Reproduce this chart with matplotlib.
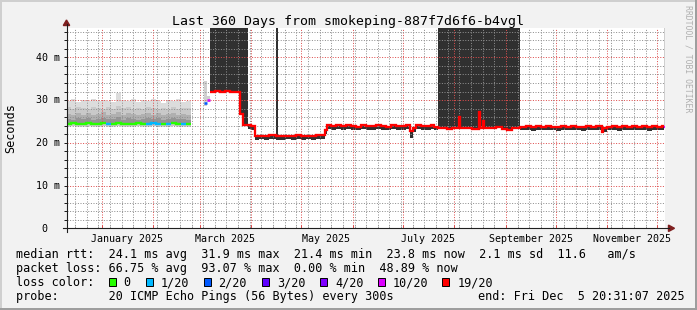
import numpy as np
import matplotlib
matplotlib.use("Agg")
import matplotlib.pyplot as plt
import matplotlib.dates as mdates
import matplotlib.transforms as mtransforms
from matplotlib.ticker import MultipleLocator
from matplotlib.patches import Rectangle, Polygon
from matplotlib.lines import Line2D
from datetime import datetime

# ---------------- data ----------------
start = datetime(2024, 12, 10, 20, 31, 7)
span_days = 360.0

title = "Last 360 Days from smokeping-887f7d6f6-b4vgl"
ylabel = "Seconds"
ytick_vals = [0, 10, 20, 30, 40]
ytick_labels = [" 0", "10 m", "20 m", "30 m", "40 m"]
xlabel_dates = [datetime(2025, 1, 16), datetime(2025, 3, 16), datetime(2025, 5, 16),
                datetime(2025, 7, 16), datetime(2025, 9, 16), datetime(2025, 11, 16)]
xlabel_texts = ["January 2025", "March 2025", "May 2025", "July 2025",
                "September 2025", "November 2025"]

loss_levels = [0, 1, 2, 3, 4, 10, 19]
loss_labels = ["0", "1/20", "2/20", "3/20", "4/20", "10/20", "19/20"]
loss_colors = ["#26ff00", "#00b8ff", "#0059ff", "#5e00ff", "#7e00ff", "#dd00ff", "#ff0000"]

legend_rtt = "median rtt:  24.1 ms avg  31.9 ms max  21.4 ms min  23.8 ms now  2.1 ms sd  11.6   am/s"
legend_loss = "packet loss: 66.75 % avg  93.07 % max  0.00 % min  48.89 % now"
legend_color = "loss color:"
legend_probe = "probe:       20 ICMP Echo Pings (56 Bytes) every 300s"
legend_end = "end: Fri Dec  5 20:31:07 2025"

# segment A (days from start): low-loss period with smoke
A_days = [0, 3, 6, 9, 12, 15, 18, 21, 24, 27, 30, 33, 36, 39, 42, 45, 48, 51, 54, 57, 60, 63, 66, 69, 72]
A_end = 74.7
A_median = [24.5, 24.6, 24.5, 24.4, 24.6, 24.5, 24.5, 24.6, 24.4, 24.5, 24.6, 24.5, 24.5,
            24.4, 24.6, 24.5, 24.5, 24.6, 24.5, 24.4, 24.5, 24.6, 24.5, 24.5, 24.4]
A_loss = [0, 0, 0, 0, 0, 0, 0, 0, 1, 0, 0, 0, 0, 0, 0, 0, 1, 1, 1, 0, 1, 0, 0, 1, 0]
A_max = [29.9, 30.2, 29.6, 30.1, 29.8, 30.3, 29.7, 30.0, 29.9, 29.6, 31.7, 30.1, 29.8,
         30.2, 29.5, 30.0, 29.9, 30.3, 29.7, 29.4, 30.0, 29.8, 30.2, 29.6, 29.9]
A_hi2 = [28.3, 28.0, 28.4, 28.1, 27.9, 28.3, 28.2, 27.8, 28.4, 28.0, 28.6, 28.1, 28.3,
         27.9, 28.2, 28.0, 28.4, 28.1, 27.8, 28.2, 28.0, 28.3, 27.9, 28.1, 28.2]
A_hi3 = [26.8, 26.5, 27.0, 26.6, 26.9, 26.4, 26.7, 27.1, 26.6, 26.8, 27.3, 26.5, 26.9,
         26.7, 26.4, 26.8, 27.0, 26.6, 26.9, 26.5, 26.7, 27.0, 26.6, 26.8, 26.5]
A_hi4 = [25.6, 25.4, 25.7, 25.5, 25.8, 25.3, 25.6, 25.9, 25.5, 25.6, 26.1, 25.4, 25.7,
         25.5, 25.3, 25.6, 25.8, 25.5, 25.7, 25.4, 25.6, 25.8, 25.5, 25.6, 25.4]
A_min = [23.8, 23.9, 23.8, 23.7, 23.9, 23.8, 23.8, 23.9, 23.7, 23.8, 23.9, 23.8, 23.8,
         23.7, 23.9, 23.8, 23.8, 23.9, 23.8, 23.7, 23.8, 23.9, 23.8, 23.8, 23.7]

# segment B: short transition
B_days = [82.8, 84.6]
B_end = 86.3
B_median = [29.4, 30.0]
B_loss = [2, 10]
B_max = [34.5, 31.0]
B_min = [28.6, 29.5]

# segment R: high-loss period (19/20)
R_days = [86.3, 89.0, 92.0, 95.0, 98.0, 101.0, 104.3, 105.9, 109.1, 111.0,
          113.3, 116.0, 119.0, 122.0, 126.0, 127.0, 129.0, 132.0, 135.0, 138.0,
          141.0, 144.0, 147.0, 150.0, 153.0, 155.4, 156.6, 159.0, 162.0, 165.0,
          168.0, 171.0, 174.0, 177.0, 180.0, 183.0, 186.0, 189.0, 192.0, 195.0,
          198.0, 201.0, 204.0, 206.5, 208.0, 210.0, 213.0, 216.0, 219.0, 221.0,
          223.1, 226.0, 229.0, 232.0, 236.1, 236.8, 240.0, 244.0, 248.0, 248.7,
          250.4, 251.1, 254.0, 258.0, 262.0, 265.0, 268.0, 272.6, 276.0, 279.0,
          282.0, 285.0, 288.0, 291.0, 294.0, 297.0, 300.0, 303.0, 306.0, 309.0,
          312.0, 315.0, 318.0, 321.7, 322.7, 325.0, 328.0, 331.0, 334.0, 337.0,
          340.0, 343.0, 346.0, 349.0, 352.0, 355.0, 358.0]
R_end = 359.2
R_median = [31.8, 32.1, 31.9, 32.2, 32.0, 31.9, 26.7, 24.1, 24.2, 24.0,
            21.6, 21.7, 21.5, 21.8, 21.6, 21.6, 21.5, 21.7, 21.6, 21.8,
            21.5, 21.7, 21.6, 21.8, 21.9, 23.0, 24.1, 24.0, 24.2, 23.9,
            24.1, 24.0, 23.8, 24.1, 24.0, 23.9, 24.2, 24.0, 23.8, 24.1,
            24.0, 23.9, 24.1, 22.8, 23.4, 24.1, 24.0, 23.9, 24.1, 23.8,
            23.4, 23.5, 23.3, 23.5, 26.0, 23.4, 23.5, 23.3, 27.2, 23.4,
            25.0, 23.5, 23.4, 23.6, 23.3, 22.9, 23.4, 23.8, 23.9, 23.7,
            23.9, 23.8, 24.0, 23.8, 23.7, 23.9, 23.8, 24.0, 23.8, 23.7,
            23.9, 23.8, 23.9, 22.6, 23.5, 23.8, 23.9, 23.7, 23.9, 23.8,
            24.0, 23.8, 23.9, 23.7, 23.9, 23.8, 23.9]
R_smoke_lo = [31.8, 32.1, 31.9, 32.2, 32.0, 31.9, 26.7, 24.1, 23.3, 23.1,
              20.7, 20.8, 20.6, 20.9, 20.7, 20.7, 20.6, 20.8, 20.7, 20.9,
              20.6, 20.8, 20.7, 20.9, 21.0, 22.1, 23.2, 23.1, 23.3, 23.0,
              23.2, 23.1, 22.9, 23.2, 23.1, 23.0, 23.3, 23.1, 22.9, 23.2,
              23.1, 23.0, 23.2, 21.2, 22.5, 23.2, 23.1, 23.0, 23.2, 22.9,
              23.4, 23.5, 23.3, 23.5, 26.0, 23.4, 23.5, 23.3, 27.2, 23.4,
              25.0, 23.5, 23.4, 23.6, 23.3, 22.9, 23.4, 22.9, 23.0, 22.8,
              23.0, 22.9, 23.1, 22.9, 22.8, 23.0, 22.9, 23.1, 22.9, 22.8,
              23.0, 22.9, 23.0, 22.2, 22.6, 22.9, 23.0, 22.8, 23.0, 22.9,
              23.1, 22.9, 23.0, 22.8, 23.0, 22.9, 23.0]
R_smoke_hi = [60, 60, 60, 60, 60, 60, 60, 60, 24.2, 24.0,
              21.6, 21.7, 21.5, 21.8, 60, 21.6, 21.5, 21.7, 21.6, 21.8,
              21.5, 21.7, 21.6, 21.8, 21.9, 23.0, 24.1, 24.0, 24.2, 23.9,
              24.1, 24.0, 23.8, 24.1, 24.0, 23.9, 24.2, 24.0, 23.8, 24.1,
              24.0, 23.9, 24.1, 22.8, 23.4, 24.1, 24.0, 23.9, 24.1, 23.8,
              60, 60, 60, 60, 60, 60, 60, 60, 60, 60,
              60, 60, 60, 60, 60, 60, 60, 23.8, 23.9, 23.7,
              23.9, 23.8, 24.0, 23.8, 23.7, 23.9, 23.8, 24.0, 23.8, 23.7,
              23.9, 23.8, 23.9, 22.6, 23.5, 23.8, 23.9, 23.7, 23.9, 23.8,
              24.0, 23.8, 23.9, 23.7, 23.9, 23.8, 23.9]
R_loss = 19

# final sample
T_days = [359.2]
T_end = 360.0
T_median = [23.6]
T_loss = [10]
T_max = [60]

# ---------------- figure ----------------
W, H = 697, 310
MONO = "DejaVu Sans Mono"
fig = plt.figure(figsize=(W / 100, H / 100), dpi=100, facecolor="#F2F2F2")


def fx(x):
    return x / W


def fy(y):
    return 1 - y / H


PL, PR, PT, PB = 66.5, 665.4, 28.3, 228.3
ax = fig.add_axes([fx(PL), fy(PB), (PR - PL) / W, (PB - PT) / H], facecolor="white")
for s in ax.spines.values():
    s.set_visible(False)

t0 = mdates.date2num(start)
color_of = dict(zip(loss_levels, loss_colors))


def ext(days, end, vals):
    x = t0 + np.array(list(days) + [end], dtype=float)
    y = np.array(list(vals) + [vals[-1]], dtype=float)
    return x, y


def draw_median(days, end, med, loss, lw):
    n = len(days)
    xs = list(days) + [end]
    i = 0
    while i < n:
        j = i
        while j + 1 < n and loss[j + 1] == loss[i]:
            j += 1
        xx = t0 + np.array(xs[i:j + 2], dtype=float)
        yy = list(med[i:j + 1]) + [med[j]]
        ax.step(xx, yy, where="post", color=color_of[loss[i]], lw=lw,
                solid_capstyle="butt", solid_joinstyle="miter", zorder=3)
        i = j + 1


# smoke segment A
x, ymin = ext(A_days, A_end, A_min)
_, ymax = ext(A_days, A_end, A_max)
_, yh2 = ext(A_days, A_end, A_hi2)
_, yh3 = ext(A_days, A_end, A_hi3)
_, yh4 = ext(A_days, A_end, A_hi4)
_, ymed = ext(A_days, A_end, A_median)
ax.fill_between(x, ymin, ymax, step="post", color="#dcdcdc", lw=0, zorder=1)
ax.fill_between(x, ymin + 0.15, yh2, step="post", color="#c9c9c9", lw=0, zorder=1)
ax.fill_between(x, ymed - 0.3, yh3, step="post", color="#b0b0b0", lw=0, zorder=1)
ax.fill_between(x, ymed - 0.2, yh4, step="post", color="#959595", lw=0, zorder=1)

# smoke segment B
x, ymin = ext(B_days, B_end, B_min)
_, ymax = ext(B_days, B_end, B_max)
ax.fill_between(x, ymin, ymax, step="post", color="#d0d0d0", lw=0, zorder=1)

# smoke segment R
x, ylo = ext(R_days, R_end, R_smoke_lo)
_, yhi = ext(R_days, R_end, R_smoke_hi)
ax.fill_between(x, ylo, yhi, step="post", color="#303030", lw=0, zorder=1)

# tail smoke
x, ylo = ext(T_days, T_end, T_median)
_, yhi = ext(T_days, T_end, T_max)
ax.fill_between(x, ylo, yhi, step="post", color="#cfcfcf", lw=0, zorder=1)

# medians
draw_median(A_days, A_end, A_median, A_loss, 1.7)
draw_median(B_days, B_end, B_median, B_loss, 1.8)
draw_median(R_days, R_end, R_median, [R_loss] * len(R_days), 1.65)
draw_median(T_days, T_end, T_median, T_loss, 1.65)

ax.set_xlim(t0, t0 + span_days)
ax.set_ylim(0, 46.8)

ax.xaxis.set_major_locator(mdates.MonthLocator())
ax.xaxis.set_minor_locator(mdates.WeekdayLocator(byweekday=mdates.MO))
ax.yaxis.set_major_locator(MultipleLocator(10))
ax.yaxis.set_minor_locator(MultipleLocator(2))
ax.set_axisbelow(False)
ax.grid(which="minor", color=(0.56, 0.56, 0.56, 0.28), lw=0.72, ls=(0, (1, 1.6)))
ax.grid(which="major", color=(0.87, 0.31, 0.31, 0.42), lw=0.72, ls=(0, (1, 1.6)))
ax.tick_params(axis="y", which="both", direction="out", length=2.2, width=0.72,
               color="#1f1f1f", labelleft=False)
ax.tick_params(axis="x", which="major", direction="in", length=2.2, width=0.72,
               color=(0.87, 0.31, 0.31), labelbottom=False)
ax.tick_params(axis="x", which="minor", direction="in", length=1.5, width=0.72,
               color="#9a9a9a", labelbottom=False)

# tick labels
ytr = mtransforms.offset_copy(ax.get_yaxis_transform(), fig=fig, x=0, y=-3.4, units="dots")
for v, lab in zip(ytick_vals, ytick_labels):
    ax.text((36 - PL) / (PR - PL), v, lab, transform=ytr, ha="left", va="baseline",
            family=MONO, size=7.18, color="black")
xtr = mtransforms.offset_copy(ax.get_xaxis_transform(), fig=fig, x=0, y=-13.4, units="dots")
for d, lab in zip(xlabel_dates, xlabel_texts):
    ax.text(mdates.date2num(d), 0, lab, transform=xtr, ha="center", va="baseline",
            family=MONO, size=7.18, color="black", clip_on=False)

# axis lines and arrows
axis_col = "#1f1f1f"
fig.add_artist(Line2D([fx(62.7), fx(669)], [fy(PB), fy(PB)], color=axis_col, lw=0.8))
fig.add_artist(Line2D([fx(PL), fx(PL)], [fy(231.7), fy(24)], color=axis_col, lw=0.8))
arrow_col = "#7f1f1f"
fig.add_artist(Polygon([[fx(PL), fy(20)], [fx(PL - 3.2), fy(25.5)], [fx(PL + 3.2), fy(25.5)]],
                       closed=True, color=arrow_col, transform=fig.transFigure))
fig.add_artist(Polygon([[fx(674.5), fy(PB)], [fx(668.5), fy(PB - 3.2)], [fx(668.5), fy(PB + 3.2)]],
                       closed=True, color=arrow_col, transform=fig.transFigure))


def rect_px(x, y, w, h, fc, ec="none", lw=0.0):
    fig.add_artist(Rectangle((fx(x), fy(y + h)), w / W, h / H, transform=fig.transFigure,
                             facecolor=fc, edgecolor=ec, lw=lw))


# frame shading
rect_px(0, 0, W, 2, "#cfcfcf")
rect_px(0, 0, 2, H, "#cfcfcf")
rect_px(0, H - 2, W, 2, "#9e9e9e")
rect_px(W - 2, 0, 2, H, "#9e9e9e")

# texts
fig.text(fx(347.8), fy(25), title, ha="center", va="baseline", family=MONO, size=9.55)
fig.text(fx(11), fy(128), ylabel, rotation=90, ha="center", va="center", family=MONO, size=8.5)
fig.text(fx(688), fy(59), "RRDTOOL / TOBI OETIKER", rotation=270, ha="center", va="center",
         family=MONO, size=5.9, color="#b0b0b0")

LX = 16
fig.text(fx(LX), fy(258.3), legend_rtt, ha="left", va="baseline", family=MONO, size=8.5)
fig.text(fx(LX), fy(272.3), legend_loss, ha="left", va="baseline", family=MONO, size=8.5)
fig.text(fx(LX), fy(286.3), legend_color, ha="left", va="baseline", family=MONO, size=8.5)
fig.text(fx(LX), fy(300.3), legend_probe, ha="left", va="baseline", family=MONO, size=8.5)
fig.text(fx(478.3), fy(300.3), legend_end, ha="left", va="baseline", family=MONO, size=8.5)

box_x = [108.5, 145.9, 203.5, 261.9, 319.5, 377.5, 441.9]
lab_x = [123.3, 160.7, 218.3, 276.7, 335.0, 392.7, 457.3]
for bx, lx, c, lab in zip(box_x, lab_x, loss_colors, loss_labels):
    rect_px(bx, 278.3, 7.5, 8.0, c, ec="black", lw=0.7)
    fig.text(fx(lx), fy(286.3), lab, ha="left", va="baseline", family=MONO, size=8.5)

fig.savefig("out.png", dpi=100, facecolor=fig.get_facecolor())
